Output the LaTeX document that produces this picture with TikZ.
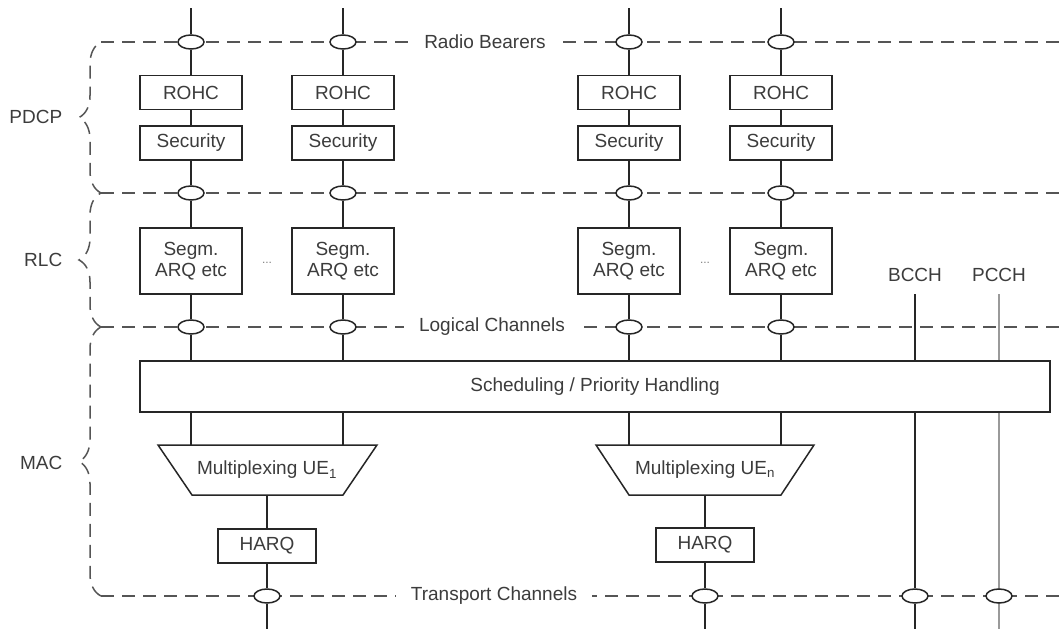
\documentclass[tikz,border=0pt]{standalone}
\usepackage{fontspec}
\setmainfont{Liberation Sans}
\usetikzlibrary{shapes.geometric,decorations.pathreplacing}
\definecolor{ln}{HTML}{262626}
\definecolor{dsh}{HTML}{555555}
\definecolor{txt}{HTML}{3C3C3C}
\definecolor{pc}{HTML}{9A9A9A}
\begin{document}
\begin{tikzpicture}[x=1pt,y=-1pt,
  font=\fontsize{19}{21}\selectfont, text=txt, line width=1.5pt,
  every node/.style={inner sep=0pt},
  box/.style={draw=ln, fill=white, minimum width=102pt, minimum height=34pt},
  segbox/.style={box, minimum height=66pt, align=center},
  port/.style={draw=ln, fill=white, ellipse, minimum width=26pt, minimum height=14pt},
  link/.style={draw=ln},
  graylink/.style={draw=pc, line width=2.6pt},
  bus/.style={draw=dsh, dash pattern=on 13pt off 8pt},
  lbl/.style={fill=white, inner xsep=15pt, inner ysep=3pt},
  layer/.style={anchor=east},
  dots/.style={font=\fontsize{12}{12}\selectfont, text=gray},
  bracestyle/.style={draw=dsh, dash pattern=on 13pt off 8pt, decorate, decoration={brace, amplitude=22pt}}]
\useasboundingbox (0,0) rectangle (1061,629);

% layer braces
\draw[bracestyle] (101,193) -- (101,42);
\draw[bracestyle] (101,327) -- (101,193);
\draw[bracestyle] (101,596) -- (101,327);
\node[layer] (pdcp) at (63,117) {PDCP};
\node[layer] (rlc) at (63,260) {RLC};
\node[layer] (mac) at (63,463) {MAC};

% horizontal buses
\draw[bus] (101,42) -- (1061,42);
\draw[bus] (101,193) -- (1061,193);
\draw[bus] (101,327) -- (1061,327);
\draw[bus] (101,596) -- (1061,596);
\node[lbl] (rb) at (485,42) {Radio Bearers};
\node[lbl] (lch) at (492,327) {Logical Channels};
\node[lbl] (tch) at (494,596) {Transport Channels};

% scheduling
\node[draw=ln, fill=white, minimum width=910pt, minimum height=51pt] (sched) at (595,386.5) {Scheduling / Priority Handling};

% radio bearer columns
\foreach \i/\x in {1/191, 2/343, 3/629, 4/781}{
  \coordinate (top\i) at (\x,8);
  \node[port] (rb\i) at (\x,42) {};
  \node[box] (rohc\i) at (\x,92.5) {ROHC};
  \node[box] (sec\i) at (\x,143) {Security};
  \node[port] (pr\i) at (\x,193) {};
  \node[segbox] (seg\i) at (\x,261) {Segm.\\ARQ etc};
  \node[port] (lc\i) at (\x,327) {};
  \draw[link] (top\i) -- (rb\i) -- (rohc\i) -- (sec\i) -- (pr\i) -- (seg\i) -- (lc\i) -- (lc\i |- sched.north);
}
\node[dots] (d1) at (267,263) {...};
\node[dots] (d2) at (705,263) {...};

% multiplexing UE1
\draw[draw=ln, fill=white] (158,445) -- (377,445) -- (343,495) -- (192,495) -- cycle;
\node (mux1) at (267,470) {Multiplexing UE\textsubscript{1}};
\coordinate (mux1n) at (267,445);
\coordinate (mux1s) at (267,495);
\draw[link] (seg1 |- sched.south) -- (seg1 |- mux1n);
\draw[link] (seg2 |- sched.south) -- (seg2 |- mux1n);
\node[box, minimum width=98pt] (harq1) at (267,546) {HARQ};
\node[port] (tc1) at (267,596) {};
\coordinate (bot1) at (267,629);
\draw[link] (mux1s) -- (harq1) -- (tc1) -- (bot1);

% multiplexing UEn
\draw[draw=ln, fill=white] (596,445) -- (814,445) -- (781,495) -- (629,495) -- cycle;
\node (mux2) at (705,470) {Multiplexing UE\textsubscript{n}};
\coordinate (mux2n) at (705,445);
\coordinate (mux2s) at (705,495);
\draw[link] (seg3 |- sched.south) -- (seg3 |- mux2n);
\draw[link] (seg4 |- sched.south) -- (seg4 |- mux2n);
\node[box, minimum width=98pt] (harq2) at (705,545) {HARQ};
\node[port] (tc2) at (705,596) {};
\coordinate (bot2) at (705,629);
\draw[link] (mux2s) -- (harq2) -- (tc2) -- (bot2);

% BCCH
\node (bcch) at (915,275) {BCCH};
\coordinate (bcchtop) at (915,294);
\node[port] (tc3) at (915,596) {};
\coordinate (bot3) at (915,629);
\draw[link] (bcchtop) -- (bcchtop |- sched.north);
\draw[link] (bcchtop |- sched.south) -- (tc3) -- (bot3);

% PCCH
\node (pcch) at (999,275) {PCCH};
\coordinate (pcchtop) at (999,294);
\coordinate (bot4) at (999,629);
\draw[graylink] (pcchtop) -- (pcchtop |- sched.north);
\draw[graylink] (pcchtop |- sched.south) -- (bot4);
\node[port] (tc4) at (999,596) {};
\end{tikzpicture}
\end{document}
